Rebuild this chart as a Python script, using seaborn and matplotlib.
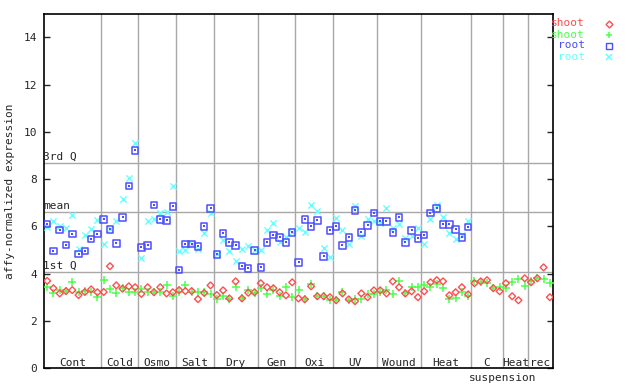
import numpy as np
import pandas as pd
import matplotlib
matplotlib.use("Agg")
import matplotlib.pyplot as plt
import seaborn as sns
from matplotlib.lines import Line2D

# groups along the x axis (label, number of samples)
groups = ["Cont", "Cold", "Osmo", "Salt", "Dry", "Gen", "Oxi", "UV", "Wound", "Heat", "C", "Heat", "rec"]
group_sizes = [9, 6, 6, 6, 7, 6, 6, 7, 7, 8, 5, 4, 4]

shoot_red = [3.70, 3.39, 3.17, 3.27, 3.31, 3.10, 3.23, 3.34, 3.22,
             3.23, 4.32, 3.51, 3.37, 3.47, 3.43,
             3.15, 3.43, 3.22, 3.43, 3.17, 3.22,
             3.31, 3.27, 3.27, 2.93, 3.19, 3.51,
             3.10, 3.30, 2.96, 3.68, 2.96, 3.20, 3.22,
             3.60, 3.43, 3.39, 3.22, 3.09, 3.64,
             2.96, 2.92, 3.47, 3.05, 3.05, 3.01,
             2.88, 3.17, 2.92, 2.84, 3.17, 3.01, 3.30,
             3.30, 3.17, 3.68, 3.43, 3.17, 3.26, 3.01,
             3.26, 3.64, 3.73, 3.68, 3.09, 3.22, 3.43, 3.13,
             3.60, 3.68, 3.73, 3.39, 3.26,
             3.60, 3.05, 2.88, 3.81,
             3.64, 3.81, 4.27, 3.01]

shoot_green = [3.43, 3.17, 3.31, 3.27, 3.64, 3.22, 3.27, 3.22, 3.01,
               3.74, 3.36, 3.17, 3.40, 3.22, 3.22,
               3.36, 3.24, 3.22, 3.22, 3.51, 3.06,
               3.24, 3.51, 3.24, 3.22, 3.22, 3.15,
               2.92, 3.05, 2.92, 3.43, 2.96, 3.30, 3.17,
               3.39, 3.13, 3.30, 3.05, 3.43, 3.01,
               3.30, 2.92, 3.56, 3.05, 3.05, 2.88,
               2.88, 3.22, 2.88, 2.92, 2.92, 3.13, 3.13,
               3.22, 3.30, 3.13, 3.68, 3.17, 3.43, 3.43,
               3.51, 3.43, 3.56, 3.39, 2.92, 2.96, 3.22, 3.05,
               3.68, 3.64, 3.60, 3.39, 3.43,
               3.39, 3.64, 3.77, 3.47,
               3.68, 3.81, 3.77, 3.60]

root_blue = [6.10, 4.96, 5.86, 5.22, 5.68, 4.83, 4.96, 5.47, 5.68,
             6.30, 5.88, 5.29, 6.39, 7.71, 9.22,
             5.12, 5.20, 6.90, 6.30, 6.26, 6.85,
             4.15, 5.25, 5.25, 5.16, 6.01, 6.77,
             4.82, 5.71, 5.33, 5.20, 4.32, 4.23, 4.99,
             4.27, 5.33, 5.63, 5.54, 5.33, 5.75,
             4.48, 6.30, 6.01, 6.26, 4.74, 5.84,
             6.01, 5.20, 5.54, 6.68, 5.75, 6.05, 6.56,
             6.22, 6.22, 5.75, 6.39, 5.33, 5.84, 5.50,
             5.63, 6.56, 6.77, 6.09, 6.09, 5.88, 5.54, 5.97] + [np.nan] * 13

root_cyan = [5.96, 6.24, 6.02, 5.93, 6.48, 5.05, 5.63, 5.88, 6.26,
             5.25, 5.88, 6.23, 7.15, 8.04, 9.53,
             4.66, 6.23, 6.31, 6.56, 6.60, 7.70,
             4.95, 4.99, 5.25, 5.05, 5.71, 6.56,
             4.82, 5.42, 4.95, 4.53, 5.03, 5.16, 4.99,
             4.99, 5.84, 6.13, 5.33, 5.54, 5.75,
             5.92, 5.75, 6.90, 6.64, 5.08, 4.70,
             6.35, 5.84, 5.25, 6.85, 5.59, 6.30, 6.22,
             6.13, 6.77, 5.92, 6.09, 5.50, 5.59, 5.92,
             5.25, 6.30, 6.90, 6.39, 5.71, 5.46, 5.63, 6.22] + [np.nan] * 13

q1, mean, q3 = 4.06, 6.60, 8.67

RED, GREEN, BLUE, CYAN = "#ff4d4d", "#4dff4d", "#4d4dff", "#66ffff"
GRID = "#a8a8a8"
FS = 8

sns.set_style("white")
plt.rcParams["font.family"] = ["DejaVu Sans Mono"]
plt.rcParams["font.size"] = FS

n = len(shoot_red)
idx = np.arange(n)
df = pd.DataFrame({"sample": idx, "shoot_red": shoot_red, "shoot_green": shoot_green,
                   "root_blue": root_blue, "root_cyan": root_cyan})

fig = plt.figure(figsize=(6.4, 3.84), dpi=100)
ax = fig.add_axes([44 / 640, (384 - 368.4) / 384, 509 / 640, 354.8 / 384])

# group separators and quartile lines
bounds = np.cumsum(group_sizes)[:-1] - 0.5
for b in bounds:
    ax.axvline(b, color=GRID, lw=1.0, zorder=1)
for v in (q1, mean, q3):
    ax.axhline(v, color=GRID, lw=1.0, zorder=1)

sns.scatterplot(data=df, x="sample", y="root_cyan", ax=ax, marker="x", s=20,
                color=CYAN, linewidth=1.0, zorder=3)
sns.scatterplot(data=df, x="sample", y="root_blue", ax=ax, marker="s", s=22,
                facecolor="none", edgecolor=BLUE, linewidth=1.1, zorder=4)
sns.scatterplot(data=df, x="sample", y="root_blue", ax=ax, marker="s", s=1.5,
                color=BLUE, linewidth=0, zorder=4)
sns.scatterplot(data=df, x="sample", y="shoot_green", ax=ax, marker="+", s=28,
                color=GREEN, linewidth=1.1, zorder=3)
sns.scatterplot(data=df, x="sample", y="shoot_red", ax=ax, marker="D", s=12,
                facecolor="none", edgecolor=RED, linewidth=1.0, zorder=4)

ax.set_xlim(-0.5, n - 0.5)
ax.set_ylim(0, 15)
ax.set_xticks([])
ax.set_yticks(range(0, 15, 2))
ax.tick_params(axis="y", direction="in", length=4, width=1, left=True, right=True,
               labelsize=FS, pad=5)
ax.set_xlabel("")
ax.set_ylabel("affy-normalized expression", fontsize=FS, labelpad=6)
for s in ax.spines.values():
    s.set_color("black")
    s.set_linewidth(1.2)

# quartile labels
ax.text(-0.6, q3 + 0.05, "3rd Q", ha="left", va="bottom", fontsize=FS)
ax.text(-0.6, mean + 0.05, "mean", ha="left", va="bottom", fontsize=FS)
ax.text(-0.6, q1 + 0.05, "1st Q", ha="left", va="bottom", fontsize=FS)

# group labels
starts = np.concatenate([[0], np.cumsum(group_sizes)[:-1]])
for g, st, sz in zip(groups, starts, group_sizes):
    ax.text(st + sz / 2 - 0.5, 0.12, g, ha="center", va="baseline", fontsize=FS)
c_i = groups.index("C")
ax.text(starts[c_i] + group_sizes[c_i] - 0.5, -0.42, "suspension", ha="center",
        va="center", fontsize=FS, clip_on=False)

# legend outside on the right
legend_rows = [("shoot", RED, "D"), ("shoot", GREEN, "+"), ("root", BLUE, "s"), ("root", CYAN, "x")]
for k, (lab, col, mk) in enumerate(legend_rows):
    yy = 1 - (23.5 + 11 * k) / 384
    fig.text(585 / 640, yy, lab, color=col, ha="right", va="center", fontsize=FS)
    if mk in ("D", "s"):
        fig.add_artist(Line2D([609 / 640], [yy], marker=mk, ms=4.5 if mk == "s" else 3.5,
                              mfc="none", mec=col, mew=1.0, ls="none"))
    else:
        fig.add_artist(Line2D([609 / 640], [yy], marker=mk, ms=5, color=col, mew=1.1, ls="none"))

fig.savefig("out.png", dpi=100)
